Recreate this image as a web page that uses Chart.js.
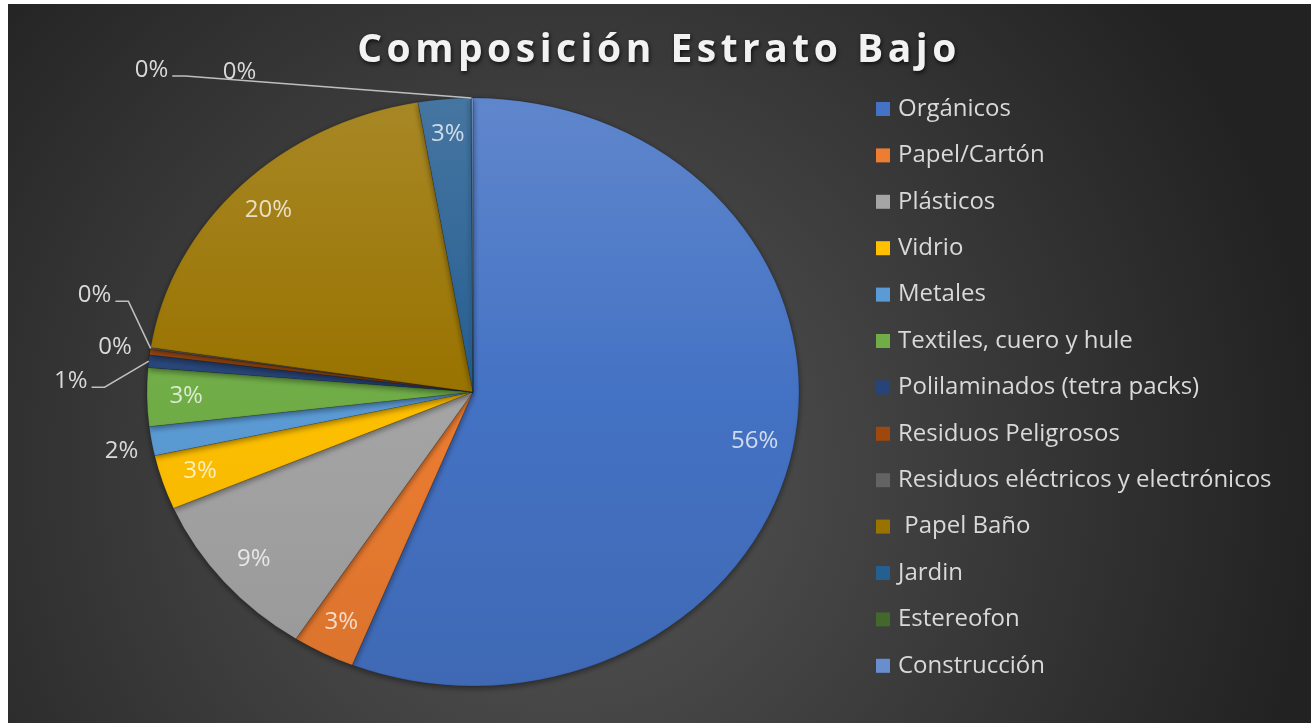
<!DOCTYPE html>
<html>
<head>
<meta charset="utf-8">
<script src="https://cdn.jsdelivr.net/npm/chart.js@4.4.1/dist/chart.umd.min.js"></script>
<style>
  html, body { margin: 0; padding: 0; background: #fff; overflow: hidden; }
  #grafico { display: block; }
</style>
</head>
<body>
<canvas id="grafico" width="1312" height="723"></canvas>
<script>
// Datos
const tituloGrafico = 'Composición Estrato Bajo';
const categorias = ['Orgánicos', 'Papel/Cartón', 'Plásticos', 'Vidrio', 'Metales',
    'Textiles, cuero y hule', 'Polilaminados (tetra packs)', 'Residuos Peligrosos',
    'Residuos eléctricos y electrónicos', ' Papel Baño', 'Jardin', 'Estereofon', 'Construcción'];
const porcentajes = [56.1, 3.1, 9.4, 3.0, 1.6, 3.2, 0.7, 0.3, 0.1, 19.9, 2.6, 0.05, 0.05];
const colores = ['#4472C4', '#ED7D31', '#A5A5A5', '#FFC000', '#5B9BD5', '#70AD47',
    '#264478', '#9E480E', '#636363', '#997300', '#255E91', '#43682B', '#698ED0'];

// etiquetas fuera del pastel (desplazamiento desde el borde del sector)
const etiquetasExternas = {
    4: { dx: -30, dy: 10 },
    6: { dx: -78, dy: 20, linea: true },
    7: { dx: -35, dy: -5 },
    8: { dx: -56, dy: -53, linea: true },
    11: { dx: -320, dy: -28, linea: true },
    12: { dx: -233, dy: -26 }
};

const ESCALA_X = 326 / 294;   // el pastel original está algo estirado
const FUENTE = '"Open Sans", Lato, sans-serif';

function ajustarColor(hex, f) {
    const n = parseInt(hex.slice(1), 16);
    let r = (n >> 16) & 255, g = (n >> 8) & 255, b = n & 255;
    const c = v => Math.round(f >= 0 ? v + (255 - v) * f : v * (1 + f));
    return `rgb(${c(r)},${c(g)},${c(b)})`;
}

function rellenoSector(ctx) {
    const chart = ctx.chart;
    const area = chart.chartArea;
    if (!area) return colores[ctx.dataIndex];
    const base = colores[ctx.dataIndex];
    const g = chart.ctx.createLinearGradient(0, area.top, 0, area.bottom);
    g.addColorStop(0, ajustarColor(base, 0.15));
    g.addColorStop(0.5, base);
    g.addColorStop(1, ajustarColor(base, -0.08));
    return g;
}

const fondo = {
    id: 'fondo',
    beforeDraw(chart) {
        const { ctx, width, height } = chart;
        ctx.save();
        ctx.fillStyle = '#fff';
        ctx.fillRect(0, 0, width, height);
        const g = ctx.createRadialGradient(560, 470, 0, 560, 470, 760);
        g.addColorStop(0, '#575757');
        g.addColorStop(1, '#222222');
        ctx.fillStyle = g;
        ctx.fillRect(8, 4, width - 9, height - 4);
        ctx.restore();
    }
};

const pastel = {
    id: 'pastel',
    beforeDatasetsDraw(chart) {
        const a = chart.getDatasetMeta(0).data[0];
        const ctx = chart.ctx;
        ctx.save();
        ctx.translate(a.x, a.y);
        ctx.scale(ESCALA_X, 1);
        ctx.translate(-a.x, -a.y);
        ctx.shadowColor = 'rgba(0,0,0,0.45)';
        ctx.shadowBlur = 6;
        ctx.shadowOffsetY = 2;
    },
    afterDatasetsDraw(chart) {
        const ctx = chart.ctx;
        ctx.restore();

        const total = porcentajes.reduce((s, v) => s + v, 0);
        const arcos = chart.getDatasetMeta(0).data;
        ctx.save();
        ctx.font = `24px ${FUENTE}`;
        ctx.textAlign = 'center';
        ctx.textBaseline = 'middle';
        arcos.forEach((arc, i) => {
            const { x, y, startAngle, endAngle, outerRadius } = arc.getProps(['x', 'y', 'startAngle', 'endAngle', 'outerRadius'], true);
            const medio = (startAngle + endAngle) / 2;
            const texto = Math.round(porcentajes[i] / total * 100) + '%';
            const externa = etiquetasExternas[i];
            if (!externa) {
                const k = 0.88;
                const px = x + Math.cos(medio) * outerRadius * k * ESCALA_X;
                const py = y + Math.sin(medio) * outerRadius * k;
                ctx.fillStyle = 'rgba(255,255,255,0.75)';
                ctx.fillText(texto, px, py);
                return;
            }
            const bx = x + Math.cos(medio) * outerRadius * ESCALA_X;
            const by = y + Math.sin(medio) * outerRadius;
            const lx = bx + externa.dx, ly = by + externa.dy;
            ctx.fillStyle = '#d9d9d9';
            ctx.fillText(texto, lx, ly);
            if (externa.linea) {
                const w = ctx.measureText(texto).width;
                const sx = lx + w / 2 + 4, sy = ly + 6;
                ctx.strokeStyle = '#bfbfbf';
                ctx.lineWidth = 1.5;
                ctx.beginPath();
                ctx.moveTo(sx, sy);
                ctx.lineTo(sx + 13, sy);
                ctx.lineTo(bx, by);
                ctx.stroke();
            }
        });
        ctx.restore();
    },
    afterDraw(chart) {
        const ctx = chart.ctx;
        // título
        ctx.save();
        ctx.font = `bold 39px ${FUENTE}`;
        ctx.letterSpacing = '4.5px';
        ctx.textAlign = 'center';
        ctx.textBaseline = 'middle';
        ctx.shadowColor = 'rgba(0,0,0,0.7)';
        ctx.shadowBlur = 4;
        ctx.shadowOffsetX = 1;
        ctx.shadowOffsetY = 2;
        ctx.fillStyle = '#f2f2f2';
        ctx.fillText(tituloGrafico, 659, 51);
        ctx.restore();

        // leyenda
        ctx.save();
        ctx.font = `24px ${FUENTE}`;
        ctx.textAlign = 'left';
        ctx.textBaseline = 'middle';
        categorias.forEach((nombre, i) => {
            const yy = 109 + i * 46.4;
            ctx.fillStyle = colores[i];
            ctx.fillRect(876, yy - 7, 14, 14);
            ctx.fillStyle = '#d9d9d9';
            ctx.fillText(nombre, 898, yy);
        });
        ctx.restore();
    }
};

new Chart(document.getElementById('grafico'), {
    type: 'pie',
    data: {
        labels: categorias,
        datasets: [{
            data: porcentajes,
            backgroundColor: rellenoSector,
            borderWidth: 0.5,
            borderColor: 'rgba(0,0,0,0.25)',
            hoverOffset: 0,
            clip: false
        }]
    },
    options: {
        responsive: false,
        animation: false,
        events: [],
        radius: 294,
        layout: { padding: { left: 0, right: 366, top: 98, bottom: 37 } },
        plugins: {
            legend: { display: false },
            title: { display: false },
            tooltip: { enabled: false }
        }
    },
    plugins: [fondo, pastel]
});
</script>
</body>
</html>
